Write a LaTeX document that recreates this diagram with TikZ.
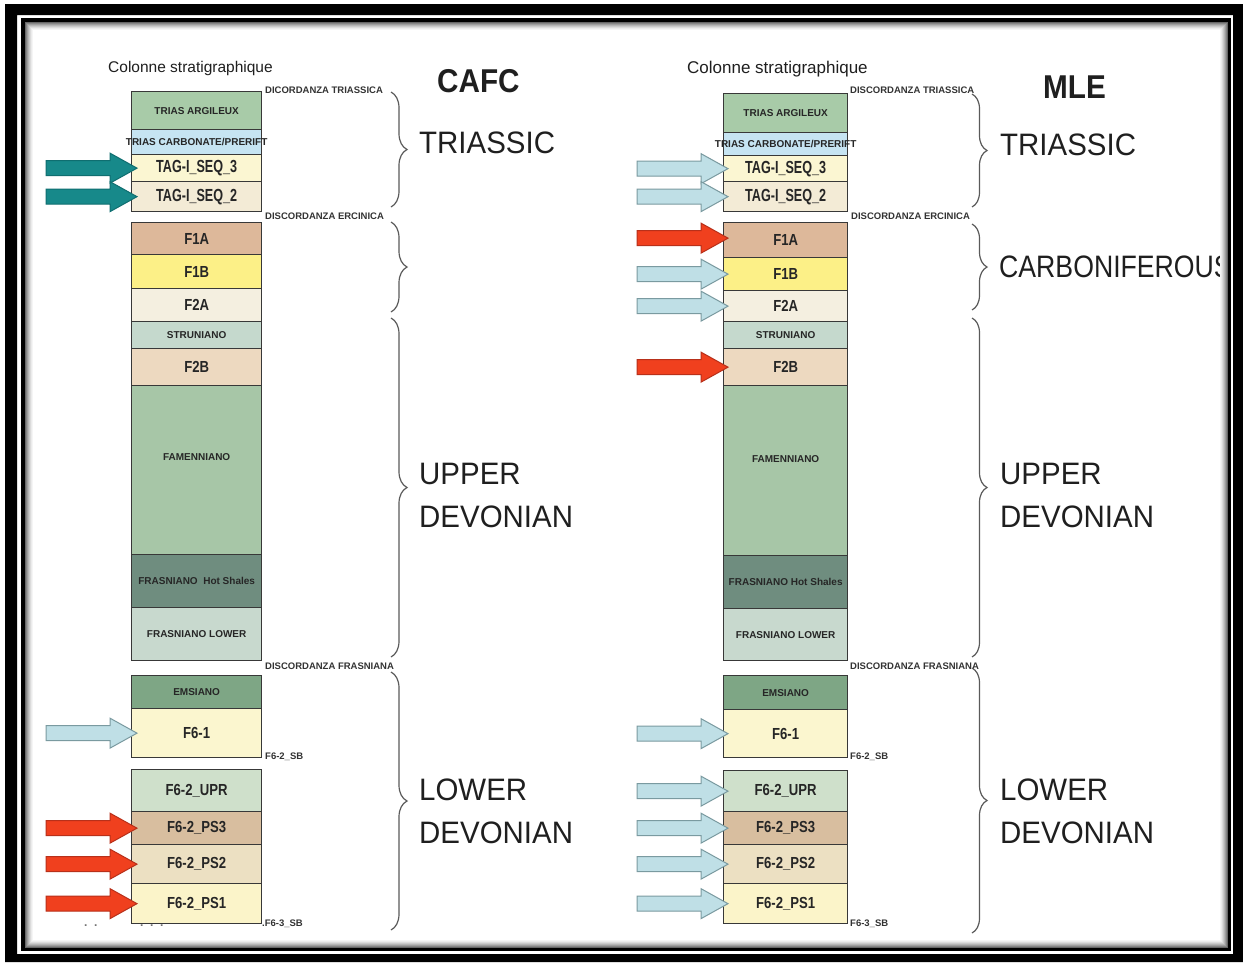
\documentclass[tikz,border=0pt]{standalone}
\usepackage{fontspec}
\setmainfont{Liberation Sans}
\newfontfamily\nf{Liberation Sans}[FakeStretch=0.82]
\newfontfamily\cf{Liberation Sans}[FakeStretch=0.86]
\newfontfamily\tf{Liberation Sans}[FakeStretch=0.72]
\newfontfamily\hf{Liberation Sans}[FakeStretch=0.95]
\newfontfamily\hfb{Liberation Sans}[FakeStretch=0.9]
\usetikzlibrary{decorations.pathreplacing}
\newcommand\fsz[1]{\fontsize{#1}{#1}\selectfont}
\definecolor{cTA}{HTML}{A8CBA8}
\definecolor{cTC}{HTML}{C6E4F2}
\definecolor{cS3}{HTML}{FBF6D2}
\definecolor{cS2}{HTML}{F3EBD6}
\definecolor{cF1A}{HTML}{DDB89A}
\definecolor{cF1B}{HTML}{FCF087}
\definecolor{cF2A}{HTML}{F4EFE0}
\definecolor{cSTR}{HTML}{C5D9CD}
\definecolor{cF2B}{HTML}{EDD9C0}
\definecolor{cFAM}{HTML}{A7C6A7}
\definecolor{cHOT}{HTML}{6F8D7F}
\definecolor{cFL}{HTML}{C8D9CE}
\definecolor{cEMS}{HTML}{7EA685}
\definecolor{cF61}{HTML}{FBF6CF}
\definecolor{cUPR}{HTML}{CFE0CB}
\definecolor{cPS3}{HTML}{D8BE9F}
\definecolor{cPS2}{HTML}{ECE0C2}
\definecolor{cPS1}{HTML}{FBF4C9}
\definecolor{cTeal}{HTML}{17898A}
\definecolor{cTealD}{HTML}{0F6E70}
\definecolor{cLB}{HTML}{BFDFE6}
\definecolor{cLBD}{HTML}{7A9AA0}
\definecolor{cRed}{HTML}{F0401E}
\definecolor{cRedD}{HTML}{B8301A}
\definecolor{cBr}{HTML}{5A5A5A}
\newcommand\colx{131}
\newcommand\mklayer[6]{\node[#1, fill=#5, minimum height={#4-#3}, anchor=north west] (#2) at (\colx,#3) {#6};}
% block arrow: #1 style, #2 name of tip coordinate, #3 tip position
\newcommand\blkarrow[3]{\coordinate (#2) at (#3);
  \path[#1] (#2) -- ++(-27,-15) -- ++(0,7.5) -- ++(-64,0) -- ++(0,15) -- ++(64,0) -- ++(0,7.5) -- cycle;}
\begin{document}
\begin{tikzpicture}[x=1pt,y=-1pt,
  layer/.style={draw=black!78, line width=1.3, inner sep=0, text=black!85, align=center},
  lw/.style={layer, minimum width=130},
  rw/.style={layer, minimum width=124},
  small/.style={font=\bfseries\fsz{10}},
  big/.style={font=\nf\bfseries\fsz{16}},
  tag/.style={font=\tf\bfseries\fsz{17.5}},
  arrteal/.style={fill=cTeal, draw=cTealD, line width=1, line join=miter},
  arrblue/.style={fill=cLB, draw=cLBD, line width=1, line join=miter},
  arrred/.style={fill=cRed, draw=cRedD, line width=1, line join=miter},
  note/.style={anchor=west, inner sep=0, font=\bfseries\fsz{9.5}, text=black!80},
  era/.style={anchor=west, inner sep=0, font=\hf\fsz{31}, text=black!88},
  head/.style={anchor=west, inner sep=0, font=\hfb\bfseries\fsz{33}, text=black!88},
  colt/.style={anchor=base west, inner sep=0, text=black!88},
  brc/.style={draw=cBr, line width=1.2, decorate, decoration={brace, amplitude=#1}},
]
\useasboundingbox (0,0) rectangle (1243,962);
\fill[white] (0,0) rectangle (1243,962);

% ---------- headers ----------
\node[colt, font=\fsz{15.5}] (hL) at (108,72) {Colonne stratigraphique};
\node[colt, font=\fsz{17}] (hR) at (687,73) {Colonne stratigraphique};
\node[head] (cafc) at (437,81) {CAFC};
\node[head] (mle) at (1043,87) {MLE};

% ---------- left column ----------
\renewcommand\colx{131}
\mklayer{lw,small}{Lta}{91}{129}{cTA}{TRIAS ARGILEUX}
\mklayer{lw,small}{Ltc}{129}{154}{cTC}{\makebox[0pt]{TRIAS CARBONATE/PRERIFT}}
\mklayer{lw,tag}{Ls3}{154}{181}{cS3}{TAG-I\_SEQ\_3}
\mklayer{lw,tag}{Ls2}{181}{211}{cS2}{TAG-I\_SEQ\_2}
\mklayer{lw,big}{Lf1a}{222}{254}{cF1A}{F1A}
\mklayer{lw,big}{Lf1b}{254}{288}{cF1B}{F1B}
\mklayer{lw,big}{Lf2a}{288}{321}{cF2A}{F2A}
\mklayer{lw,small}{Lstr}{321}{348}{cSTR}{STRUNIANO}
\mklayer{lw,big}{Lf2b}{348}{385}{cF2B}{F2B}
\mklayer{lw}{Lfam}{385}{554}{cFAM}{}
\node[small, text=black!85, yshift=13] (LfamT) at (Lfam.center) {FAMENNIANO};
\mklayer{lw,small}{Lhot}{554}{607}{cHOT}{FRASNIANO\ \ Hot Shales}
\mklayer{lw,small}{Lfl}{607}{660}{cFL}{FRASNIANO LOWER}
\mklayer{lw,small}{Lems}{675}{708}{cEMS}{EMSIANO}
\mklayer{lw,big}{Lf61}{708}{757}{cF61}{F6-1}
\mklayer{lw,big}{Lupr}{769}{811}{cUPR}{F6-2\_UPR}
\mklayer{lw,big}{Lps3}{811}{844}{cPS3}{F6-2\_PS3}
\mklayer{lw,big}{Lps2}{844}{883}{cPS2}{F6-2\_PS2}
\mklayer{lw,big}{Lps1}{883}{923}{cPS1}{F6-2\_PS1}

% ---------- right column ----------
\renewcommand\colx{723}
\mklayer{rw,small}{Rta}{93}{132}{cTA}{TRIAS ARGILEUX}
\mklayer{rw,small}{Rtc}{132}{155}{cTC}{\makebox[0pt]{TRIAS CARBONATE/PRERIFT}}
\mklayer{rw,tag}{Rs3}{155}{181}{cS3}{TAG-I\_SEQ\_3}
\mklayer{rw,tag}{Rs2}{181}{211}{cS2}{TAG-I\_SEQ\_2}
\mklayer{rw,big}{Rf1a}{222}{257}{cF1A}{F1A}
\mklayer{rw,big}{Rf1b}{257}{290}{cF1B}{F1B}
\mklayer{rw,big}{Rf2a}{290}{321}{cF2A}{F2A}
\mklayer{rw,small}{Rstr}{321}{348}{cSTR}{STRUNIANO}
\mklayer{rw,big}{Rf2b}{348}{385}{cF2B}{F2B}
\mklayer{rw}{Rfam}{385}{555}{cFAM}{}
\node[small, text=black!85, yshift=12] (RfamT) at (Rfam.center) {FAMENNIANO};
\mklayer{rw,small}{Rhot}{555}{608}{cHOT}{FRASNIANO Hot Shales}
\mklayer{rw,small}{Rfl}{608}{660}{cFL}{FRASNIANO LOWER}
\mklayer{rw,small}{Rems}{675}{709}{cEMS}{EMSIANO}
\mklayer{rw,big}{Rf61}{709}{757}{cF61}{F6-1}
\mklayer{rw,big}{Rupr}{770}{811}{cUPR}{F6-2\_UPR}
\mklayer{rw,big}{Rps3}{811}{844}{cPS3}{F6-2\_PS3}
\mklayer{rw,big}{Rps2}{844}{883}{cPS2}{F6-2\_PS2}
\mklayer{rw,big}{Rps1}{883}{923}{cPS1}{F6-2\_PS1}

% ---------- arrows ----------
\blkarrow{arrteal}{aL1}{[xshift=6pt]Ls3.west}
\blkarrow{arrteal}{aL2}{[xshift=6pt]Ls2.west}
\blkarrow{arrblue}{aL3}{[xshift=6pt]Lf61.west}
\blkarrow{arrred}{aL4}{[xshift=6pt]Lps3.west}
\blkarrow{arrred}{aL5}{[xshift=6pt]Lps2.west}
\blkarrow{arrred}{aL6}{[xshift=6pt]Lps1.west}

\blkarrow{arrblue}{aR1}{[xshift=5pt]Rs3.west}
\blkarrow{arrblue}{aR2}{[xshift=5pt]Rs2.west}
\blkarrow{arrred}{aR3}{[xshift=5pt,yshift=2pt]Rf1a.west}
\blkarrow{arrblue}{aR4}{[xshift=5pt]Rf1b.west}
\blkarrow{arrblue}{aR5}{[xshift=5pt]Rf2a.west}
\blkarrow{arrred}{aR6}{[xshift=5pt]Rf2b.west}
\blkarrow{arrblue}{aR7}{[xshift=5pt]Rf61.west}
\blkarrow{arrblue}{aR8}{[xshift=5pt]Rupr.west}
\blkarrow{arrblue}{aR9}{[xshift=5pt]Rps3.west}
\blkarrow{arrblue}{aR10}{[xshift=5pt]Rps2.west}
\blkarrow{arrblue}{aR11}{[xshift=5pt]Rps1.west}

% ---------- notes ----------
\node[note] (nL1) at (265,90) {DICORDANZA TRIASSICA};
\node[note] (nL2) at (265,216) {DISCORDANZA ERCINICA};
\node[note] (nL3) at (265,666) {DISCORDANZA FRASNIANA};
\node[note] (nL4) at (265,757) {F6-2\_SB};
\node[note] (nL5) at (262,924) {.F6-3\_SB};
\node[note] (nR1) at (850,90) {DISCORDANZA TRIASSICA};
\node[note] (nR2) at (851,216) {DISCORDANZA ERCINICA};
\node[note] (nR3) at (850,666) {DISCORDANZA FRASNIANA};
\node[note] (nR4) at (850,757) {F6-2\_SB};
\node[note] (nR5) at (850,924) {F6-3\_SB};
\node[note, font=\bfseries\fsz{12}, text=black!55] (dots1) at (84,926) {.\ \ .};
\node[note, font=\bfseries\fsz{12}, text=black!55] (dots2) at (140,926) {.\ \ .\ \ .};

% ---------- braces ----------
\coordinate (bL1a) at (391,92);  \coordinate (bL1b) at (391,207);
\coordinate (bL2a) at (391,222); \coordinate (bL2b) at (391,312);
\coordinate (bL3a) at (391,318); \coordinate (bL3b) at (391,657);
\coordinate (bL4a) at (391,672); \coordinate (bL4b) at (391,930);
\draw[brc=16] (bL1a) -- (bL1b);
\draw[brc=16] (bL2a) -- (bL2b);
\draw[brc=16] (bL3a) -- (bL3b);
\draw[brc=16] (bL4a) -- (bL4b);
\coordinate (bR1a) at (972,94);  \coordinate (bR1b) at (972,207);
\coordinate (bR2a) at (972,224); \coordinate (bR2b) at (972,310);
\coordinate (bR3a) at (972,318); \coordinate (bR3b) at (972,657);
\coordinate (bR4a) at (972,668); \coordinate (bR4b) at (972,933);
\draw[brc=15] (bR1a) -- (bR1b);
\draw[brc=15] (bR2a) -- (bR2b);
\draw[brc=15] (bR3a) -- (bR3b);
\draw[brc=15] (bR4a) -- (bR4b);

% ---------- era labels ----------
\node[era] (eL1) at (419,143) {TRIASSIC};
\node[era] (eL2) at (419,474) {UPPER};
\node[era] (eL3) at (419,517) {DEVONIAN};
\node[era] (eL4) at (419,790) {LOWER};
\node[era] (eL5) at (419,833) {DEVONIAN};
\node[era] (eR1) at (1000,145) {TRIASSIC};
\node[era, font=\cf\fsz{31}] (eR2) at (999,267) {CARBONIFEROUS};
\node[era] (eR3) at (1000,474) {UPPER};
\node[era] (eR4) at (1000,517) {DEVONIAN};
\node[era] (eR5) at (1000,790) {LOWER};
\node[era] (eR6) at (1000,833) {DEVONIAN};

% ---------- frame ----------
\fill[white] (1228,22) rectangle (1243,962);
\foreach \i/\g in {0/60,1/48,2/38,3/29,4/21,5/14,6/8,7/4}
  \draw[black!\g, line width=1] ({25.5+\i},{22.5+\i}) rectangle ({1227.5-\i},{947.5-\i});
\fill[black, even odd rule] (5,4) rectangle (1243,962) (17,15) rectangle (1233,954);
\draw[black, line width=3.2] (23,20) rectangle (1229.5,949.5);
\end{tikzpicture}
\end{document}
